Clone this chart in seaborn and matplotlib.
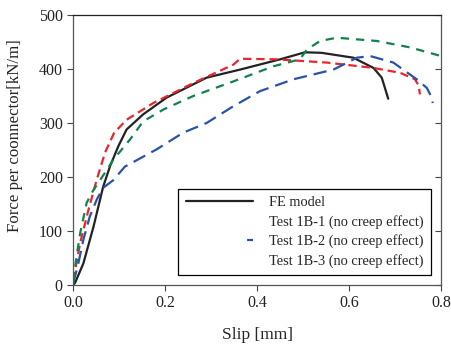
import seaborn as sns
import matplotlib.pyplot as plt
import pandas as pd
from matplotlib.lines import Line2D

# curves
fe_slip = [0.0, 0.004, 0.022, 0.044, 0.065, 0.080, 0.098, 0.116, 0.152, 0.203, 0.290,
           0.363, 0.450, 0.504, 0.540, 0.609, 0.653, 0.671, 0.685]
fe_force = [0, 4, 40, 108, 182, 220, 257, 288, 316, 347, 384,
            399, 418, 431, 430, 421, 402, 384, 345]

t1_slip = [0.0, 0.015, 0.033, 0.051, 0.069, 0.089, 0.116, 0.174, 0.261, 0.348, 0.363,
           0.442, 0.551, 0.653, 0.711, 0.743, 0.751, 0.754]
t1_force = [9, 78, 139, 195, 245, 282, 306, 337, 374, 408, 419,
            418, 412, 402, 393, 381, 370, 353]

t2_slip = [0.0, 0.011, 0.022, 0.036, 0.051, 0.065, 0.087, 0.112, 0.181, 0.239, 0.290,
           0.348, 0.406, 0.479, 0.566, 0.617, 0.646, 0.696, 0.747, 0.769, 0.778, 0.782]
t2_force = [3, 40, 84, 127, 158, 180, 194, 219, 251, 282, 300,
            331, 359, 381, 399, 421, 424, 412, 381, 365, 350, 337]

t3_slip = [0.0, 0.006, 0.015, 0.029, 0.044, 0.073, 0.087, 0.123, 0.152, 0.196, 0.261,
           0.348, 0.435, 0.493, 0.508, 0.537, 0.573, 0.660, 0.733, 0.800]
t3_force = [6, 46, 96, 152, 176, 213, 232, 269, 303, 325, 350,
            377, 405, 418, 436, 452, 458, 452, 440, 424]

labels = ["FE model", "Test 1B-1 (no creep effect)",
          "Test 1B-2 (no creep effect)", "Test 1B-3 (no creep effect)"]

sns.set_style("ticks")
plt.rcParams["font.family"] = ["Liberation Serif", "DejaVu Serif"]
plt.rcParams["lines.scale_dashes"] = False

fig = plt.figure(figsize=(4.51, 3.5), dpi=100)
ax = fig.add_axes([0.1625, 0.186, 0.8155, 0.771])

series = [
    (fe_slip, fe_force, "#222222", "-"),
    (t1_slip, t1_force, "#e8262b", (0, (6, 3.5))),
    (t2_slip, t2_force, "#2a52a8", (0, (9.5, 5))),
    (t3_slip, t3_force, "#10824a", (0, (6, 5))),
]
for (xs, ys, col, ls), lab in zip(series, labels):
    df = pd.DataFrame({"slip": xs, "force": ys})
    sns.lineplot(data=df, x="slip", y="force", sort=False, estimator=None,
                 color=col, linestyle=ls, lw=1.6, ax=ax)

ax.set_xlim(0, 0.8)
ax.set_ylim(0, 500)
ax.set_xticks([0.0, 0.2, 0.4, 0.6, 0.8])
ax.set_yticks([0, 100, 200, 300, 400, 500])
ax.set_xticklabels(["0.0", "0.2", "0.4", "0.6", "0.8"])
ax.tick_params(axis="both", labelsize=11.5, length=4, width=0.8, direction="out",
               colors="#444444", labelcolor="#222222")
ax.tick_params(axis="y", right=True, which="both")
for t in ax.yaxis.get_ticklines()[1::2]:
    t.set_marker(0)  # right side ticks pointing inward
ax.set_xlabel("Slip [mm]", fontsize=12.5, labelpad=11)
ax.set_ylabel("Force per coonnector[kN/m]", fontsize=12.2)
ax.yaxis.set_label_coords(-0.137, 0.552)
for name, s in ax.spines.items():
    s.set_linewidth(0.9)
    s.set_color("#222222" if name == "top" else "#555555")

# legend handles: only the FE line and a short blue dash are visible, as in the reference
handles = [
    Line2D([], [], color="#222222", lw=1.6),
    Line2D([], [], color="#e8262b", lw=1.6, alpha=0),
    Line2D([], [], color="#2a52a8", lw=1.6, linestyle=(5, (5, 44))),
    Line2D([], [], color="#10824a", lw=1.6, alpha=0),
]
leg = ax.legend(handles, labels, loc="lower right", bbox_to_anchor=(0.973, 0.037),
                borderaxespad=0, fontsize=10.4, handlelength=4.7, handletextpad=1.1,
                labelspacing=0.39, fancybox=False, framealpha=1, edgecolor="black",
                borderpad=0.5)
leg.get_frame().set_linewidth(0.9)

fig.savefig("out.png", dpi=100)
